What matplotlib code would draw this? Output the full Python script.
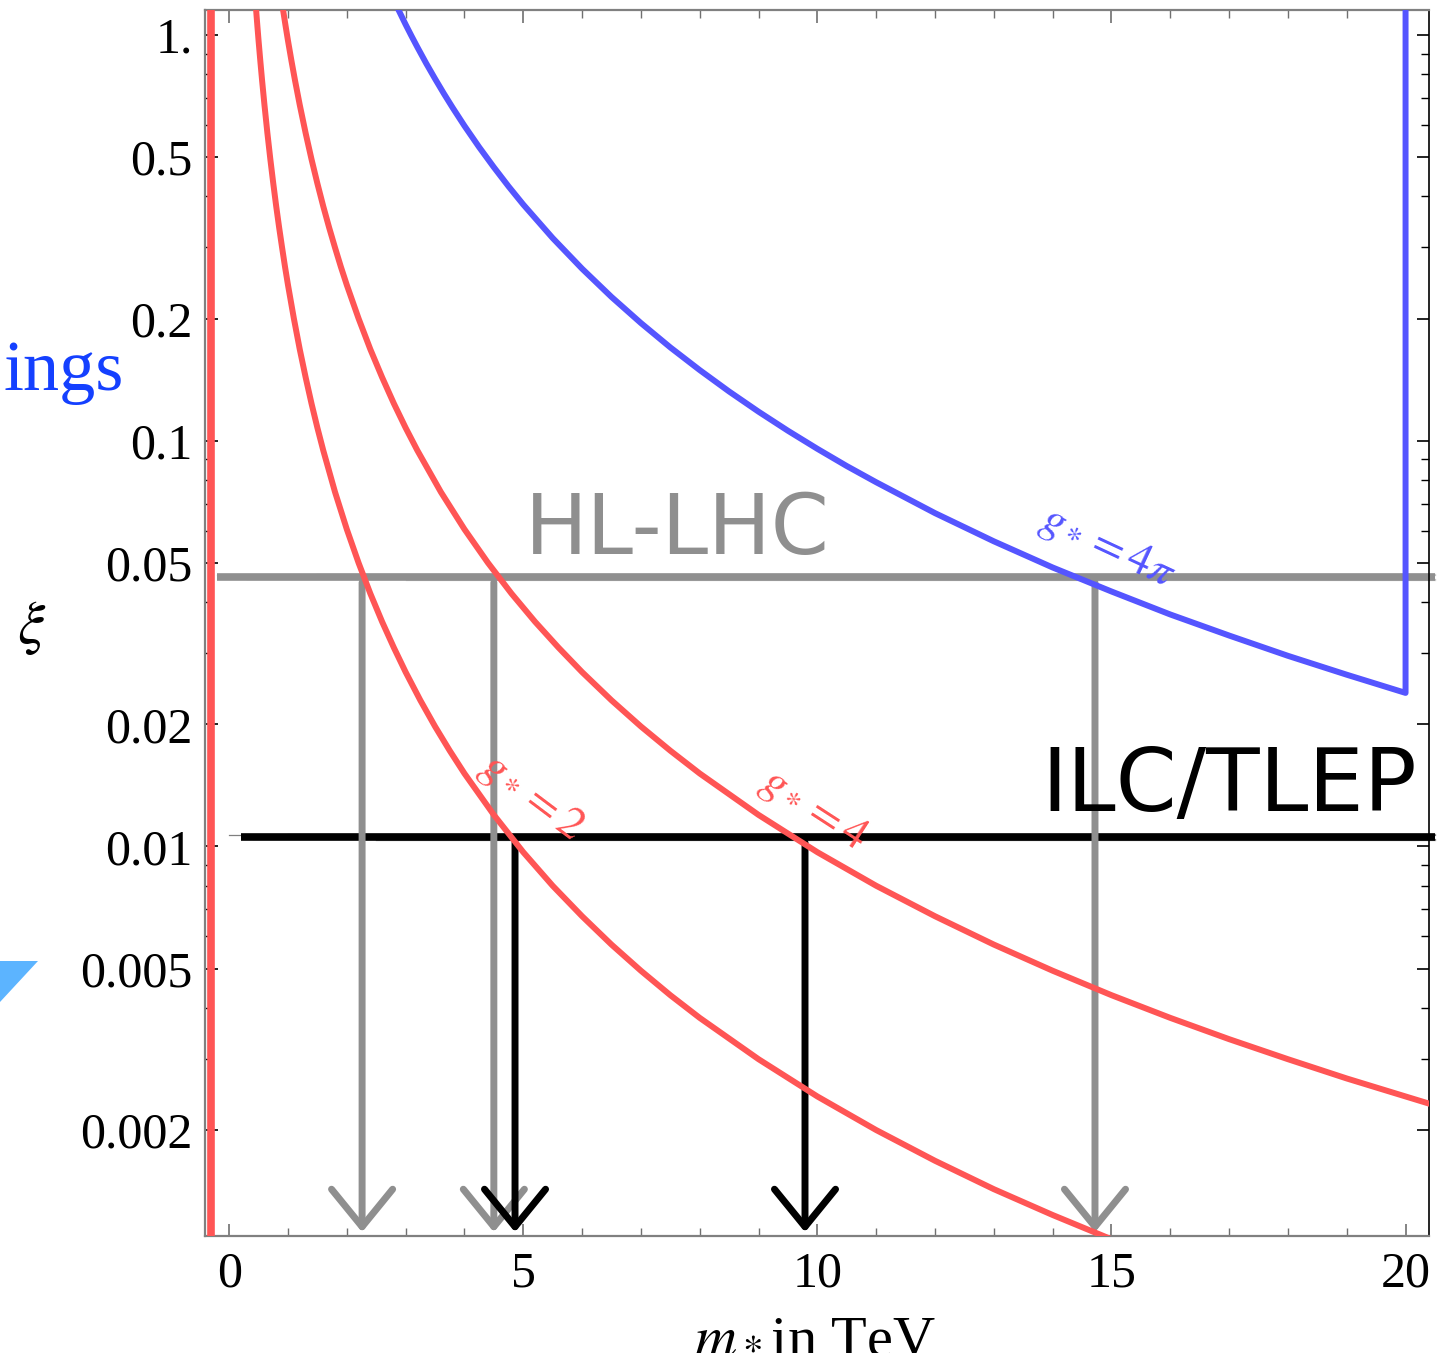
import matplotlib.pyplot as plt
from matplotlib.patches import Polygon

plt.rcParams['font.family'] = ['Liberation Serif', 'DejaVu Serif']
plt.rcParams['mathtext.fontset'] = 'stix'

# --- du lieu doc tu do thi: xi theo m_* (TeV) ---
m_g2 = [0.46, 0.48, 0.5, 0.53, 0.56, 0.6, 0.65, 0.7, 0.75, 0.8, 0.85, 0.9, 0.95, 1.0, 1.1, 1.2,
        1.3, 1.4, 1.5, 1.6, 1.8, 2.0, 2.2, 2.4, 2.6, 2.8, 3.0, 3.25, 3.5, 3.75, 4.0, 4.5, 5.0,
        5.5, 6.0, 6.5, 7.0, 7.5, 8.0, 9.0, 10.0, 11.0, 12.0, 13.0, 14.0, 15.0]
xi_g2 = [1.144, 1.051, 0.968, 0.862, 0.772, 0.6725, 0.573, 0.494, 0.4304, 0.378, 0.335, 0.299,
         0.268, 0.242, 0.2001, 0.168, 0.1433, 0.1235, 0.1076, 0.0946, 0.0747, 0.0605, 0.0500,
         0.0420, 0.0358, 0.0309, 0.0269, 0.02292, 0.01976, 0.01722, 0.01513, 0.01196, 0.00968,
         0.00800, 0.00673, 0.00573, 0.00494, 0.00430, 0.00378, 0.00299, 0.00242, 0.00200,
         0.00168, 0.00143, 0.001235, 0.001076]

m_g4 = [0.92, 0.96, 1.0, 1.06, 1.12, 1.2, 1.3, 1.4, 1.5, 1.6, 1.7, 1.8, 1.9, 2.0, 2.2, 2.4,
        2.6, 2.8, 3.0, 3.2, 3.6, 4.0, 4.4, 4.8, 5.2, 5.6, 6.0, 6.5, 7.0, 7.5, 8.0, 9.0, 10.0,
        11.0, 12.0, 13.0, 14.0, 15.0, 16.0, 17.0, 18.0, 19.0, 20.0, 20.5]
xi_g4 = [1.144, 1.051, 0.968, 0.862, 0.772, 0.6725, 0.573, 0.494, 0.4304, 0.378, 0.335, 0.299,
         0.268, 0.242, 0.2001, 0.168, 0.1433, 0.1235, 0.1076, 0.0946, 0.0747, 0.0605, 0.0500,
         0.0420, 0.0358, 0.0309, 0.0269, 0.02292, 0.01976, 0.01722, 0.01513, 0.01196, 0.00968,
         0.00800, 0.00673, 0.00573, 0.00494, 0.00430, 0.00378, 0.00335, 0.00299, 0.00268,
         0.00242, 0.00230]

m_4pi = [2.88, 3.0, 3.1, 3.2, 3.35, 3.5, 3.65, 3.8, 4.0, 4.25, 4.5, 4.75, 5.0, 5.5, 6.0, 6.5,
         7.0, 7.5, 8.0, 8.5, 9.0, 9.5, 10.0, 10.5, 11.0, 12.0, 13.0, 14.0, 15.0, 16.0, 17.0,
         18.0, 19.0, 20.0, 20.0]
xi_4pi = [1.152, 1.061, 0.994, 0.933, 0.851, 0.780, 0.717, 0.6616, 0.597, 0.529, 0.472, 0.4234,
          0.382, 0.3158, 0.2654, 0.2261, 0.195, 0.1698, 0.1493, 0.1322, 0.1179, 0.1058, 0.0955,
          0.0866, 0.0790, 0.0663, 0.0565, 0.0487, 0.0425, 0.0373, 0.0331, 0.0295, 0.0265,
          0.0239, 1.152]

m_left = -0.31          # duong do thang dung ben trai

xi_hllhc = 0.0461       # muc HL-LHC
xi_ilc = 0.01054        # muc ILC/TLEP
m_arrows_hllhc = [2.26, 4.50, 14.72]
m_arrows_ilc = [4.86, 9.79]

x_ticks = [0, 5, 10, 15, 20]
x_labels = ['0', '5', '10', '15', '20']
y_ticks = [0.002, 0.005, 0.01, 0.02, 0.05, 0.1, 0.2, 0.5, 1.0]
y_labels = ['0.002', '0.005', '0.01', '0.02', '0.05', '0.1', '0.2', '0.5', '1.']
y_minor = [0.003, 0.004, 0.006, 0.007, 0.008, 0.009,
           0.03, 0.04, 0.06, 0.07, 0.08, 0.09,
           0.3, 0.4, 0.6, 0.7, 0.8, 0.9]

red = '#ff5555'
blue = '#5555ff'
gray = '#8f8f8f'

fig = plt.figure(figsize=(14.46, 13.72), dpi=100)
ax = fig.add_axes([0.1418, 0.0991, 0.8465, 0.8936])
ax.set_yscale('log')
ax.set_xlim(-0.41, 20.4)
ax.set_ylim(0.001096, 1.152)

# truc, vach chia
ax.set_xticks(x_ticks)
ax.set_xticklabels(x_labels)
ax.set_xticks(range(0, 21), minor=True)
ax.set_yticks(y_ticks)
ax.set_yticklabels(y_labels)
ax.set_yticks(y_minor, minor=True)
ax.set_yticklabels([], minor=True)
ax.tick_params(which='both', direction='in', top=True, right=True, labelsize=36)
ax.tick_params(which='major', length=9, width=1.2)
ax.tick_params(which='minor', length=6, width=1.0)
ax.tick_params(axis='x', which='both', colors='#707070', labelcolor='black', pad=11)
ax.tick_params(axis='y', which='both', colors='black', pad=9)
for side in ['left', 'top', 'bottom']:
    ax.spines[side].set_color('#808080')
    ax.spines[side].set_linewidth(1.6)
ax.spines['right'].set_color('black')
ax.spines['right'].set_linewidth(1.2)

# duong ve tay: HL-LHC (xam) va ILC/TLEP (den), them vai soi manh cho giong net but
ax.plot([-0.2, 20.5], [xi_hllhc, xi_hllhc], color=gray, lw=5.5, clip_on=False,
        solid_capstyle='butt', zorder=2)
for k, (x0, f) in enumerate([(-0.2, 1.013), (0.3, 0.987), (1.5, 1.018), (3.0, 0.982)]):
    ax.plot([x0, 20.5], [xi_hllhc * f, xi_hllhc * f], color=gray, lw=0.9,
            alpha=0.5 - 0.1 * (k // 2), clip_on=False, zorder=2)

ax.plot([0.2, 20.5], [xi_ilc, xi_ilc], color='black', lw=5.5, clip_on=False,
        solid_capstyle='butt', zorder=2)
for k, (x0, f) in enumerate([(0.0, 1.013), (0.4, 0.987), (1.0, 1.018), (2.5, 0.982)]):
    ax.plot([x0, 20.5], [xi_ilc * f, xi_ilc * f], color='black', lw=0.9,
            alpha=0.5 - 0.1 * (k // 2), clip_on=False, zorder=2)

xi_tip = 0.00112
for m in m_arrows_hllhc:
    ax.annotate('', xy=(m, xi_tip), xytext=(m, xi_hllhc * 0.97),
                arrowprops=dict(arrowstyle='->,head_length=1.35,head_width=1.1', color=gray,
                                lw=5, mutation_scale=20, shrinkA=0, shrinkB=0), zorder=2)
for m in m_arrows_ilc:
    ax.annotate('', xy=(m, xi_tip), xytext=(m, xi_ilc * 0.97),
                arrowprops=dict(arrowstyle='->,head_length=1.35,head_width=1.1', color='black',
                                lw=5, mutation_scale=20, shrinkA=0, shrinkB=0), zorder=3)

# cac duong g_* = 2, 4, 4pi
ax.axvline(m_left, color=red, lw=5.5, zorder=4)
ax.plot(m_g2, xi_g2, color=red, lw=4.3, zorder=4)
ax.plot(m_g4, xi_g4, color=red, lw=4.3, zorder=4)
ax.plot(m_4pi, xi_4pi, color=blue, lw=4.3, zorder=4)

ax.text(5.15, 0.01324, r'$g_* =2$', color=red, fontsize=33, rotation=-37,
        ha='center', va='center', zorder=5)
ax.text(9.93, 0.0123, r'$g_* =4$', color=red, fontsize=33, rotation=-33,
        ha='center', va='center', zorder=5)
ax.text(14.94, 0.0544, r'$g_* =4\pi$', color=blue, fontsize=33, rotation=-25,
        ha='center', va='center', zorder=5)

ax.text(7.62, 0.0600, 'HL-LHC', family='DejaVu Sans', fontsize=60, color=gray,
        ha='center', va='center', zorder=5)
ax.text(17.0, 0.01400, 'ILC/TLEP', family='DejaVu Sans', fontsize=63, color='black',
        ha='center', va='center', zorder=5)

# nhan truc
fig.text(32 / 1446, 1 - 628 / 1372, r'$\xi$', fontsize=44, ha='center', va='center')
fig.text(815 / 1446, 1 - 1310 / 1372, r'$m_*$in TeV', fontsize=42, ha='center', va='top')

# phan con sot lai ben trai
fig.text(124 / 1446, 1 - 390 / 1372, 'ings', color='#1440ff', fontsize=52,
         ha='right', va='baseline')
fig.patches.append(Polygon([[0, 1 - 961 / 1372], [38 / 1446, 1 - 961 / 1372],
                            [0, 1 - 1002 / 1372]], closed=True, transform=fig.transFigure,
                           facecolor='#5cb4ff', edgecolor='none'))

fig.savefig('out.png', dpi=100)
plt.close()
